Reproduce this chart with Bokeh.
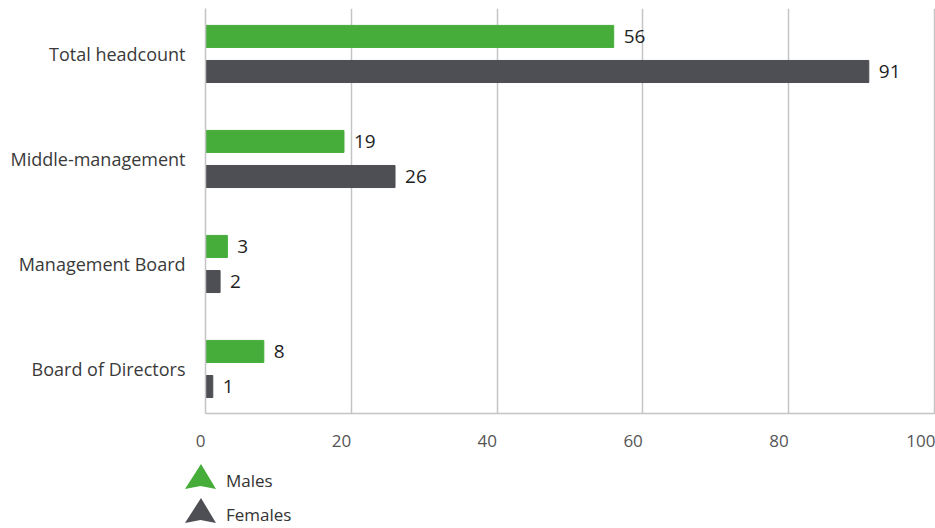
from bokeh.plotting import figure
from bokeh.layouts import column
from bokeh.models import Range1d, FixedTicker, ColumnDataSource, Div
from bokeh.transform import dodge
from bokeh.core.properties import value
from bokeh.embed import file_html
from bokeh.resources import INLINE

categories = ["Total headcount", "Middle-management", "Management Board", "Board of Directors"]
males = [56, 19, 3, 8]
females = [91, 26, 2, 1]
x_ticks = [0, 20, 40, 60, 80, 100]
series_names = ["Males", "Females"]

GREEN = "#46ad3a"
DARK = "#4e4f54"
GRID = "#c4c4c4"
FONT = "Open Sans"
FIGSP = "\u2007"
series_colors = [GREEN, DARK]

n = len(categories)
ypos = [n - 1 - i for i in range(n)]
src = ColumnDataSource(dict(
    y=ypos, cat=categories, males=males, females=females,
    mlab=[str(v) for v in males], flab=[str(v) for v in females],
))

p = figure(width=935, height=455, output_backend="svg", toolbar_location=None,
           x_range=Range1d(0, 100.15), y_range=Range1d(-0.424, n - 1 + 0.433),
           min_border_left=205, min_border_right=0, min_border_top=8, min_border_bottom=42)
p.outline_line_color = None
p.background_fill_color = "white"
p.border_fill_color = "white"

p.hbar(y=dodge("y", 0.167), left=0, right="males", height=0.21, color=GREEN, source=src)
p.hbar(y=dodge("y", -0.167), left=0, right="females", height=0.21, color=DARK, source=src)

p.text(x="males", y=dodge("y", 0.167), text="mlab", source=src, x_offset=10,
       text_align="left", text_baseline="middle", text_font=value(FONT),
       text_font_size="19px", text_color="#1e1e1e")
p.text(x="females", y=dodge("y", -0.167), text="flab", source=src, x_offset=10,
       text_align="left", text_baseline="middle", text_font=value(FONT),
       text_font_size="19px", text_color="#1e1e1e")

# axes (tick labels right-aligned to their gridline by padding with figure spaces)
p.xaxis.ticker = FixedTicker(ticks=x_ticks)
p.xaxis.major_label_overrides = {
    t: str(t) + (FIGSP * len(str(t)) if t != x_ticks[-1] else "") for t in x_ticks}
p.xaxis.major_tick_line_color = None
p.xaxis.minor_tick_line_color = None
p.xaxis.axis_line_color = GRID
p.xaxis.axis_line_width = 1.5
p.xaxis.major_label_standoff = 9
p.xaxis.major_label_text_font = FONT
p.xaxis.major_label_text_font_size = "17px"
p.xaxis.major_label_text_color = "#555555"

p.yaxis.ticker = FixedTicker(ticks=ypos)
p.yaxis.major_label_overrides = {y: c for y, c in zip(ypos, categories)}
p.yaxis.major_tick_line_color = None
p.yaxis.minor_tick_line_color = None
p.yaxis.axis_line_color = GRID
p.yaxis.axis_line_width = 1.5
p.yaxis.major_label_standoff = 14
p.yaxis.major_label_text_font = FONT
p.yaxis.major_label_text_font_size = "18px"
p.yaxis.major_label_text_color = "#3a3a3a"

p.xgrid.ticker = FixedTicker(ticks=x_ticks)
p.xgrid.grid_line_color = GRID
p.xgrid.grid_line_width = 1.5
p.ygrid.grid_line_color = None

# legend strip below the chart (HTML)
parts = []
for i, (name, col) in enumerate(zip(series_names, series_colors)):
    top = 9 + 34 * i
    parts.append(
        f'<svg style="position:absolute;left:185px;top:{top}px" width="31" height="26">'
        f'<polygon points="16,0 31,25 15.5,22 0,25" fill="{col}"/></svg>'
        f'<span style="position:absolute;left:226px;top:{top + 7}px;line-height:20px;'
        f'font-family:\'{FONT}\';font-size:17px;color:#333333;white-space:nowrap">{name}</span>'
    )
legend_html = ('<div style="position:relative;width:935px;height:73px;">'
               + "".join(parts) + "</div>")
leg = Div(text=legend_html, width=935, height=73, margin=0)

layout = column(p, leg, spacing=0)
open("out.html", "w").write(file_html(layout, INLINE))
